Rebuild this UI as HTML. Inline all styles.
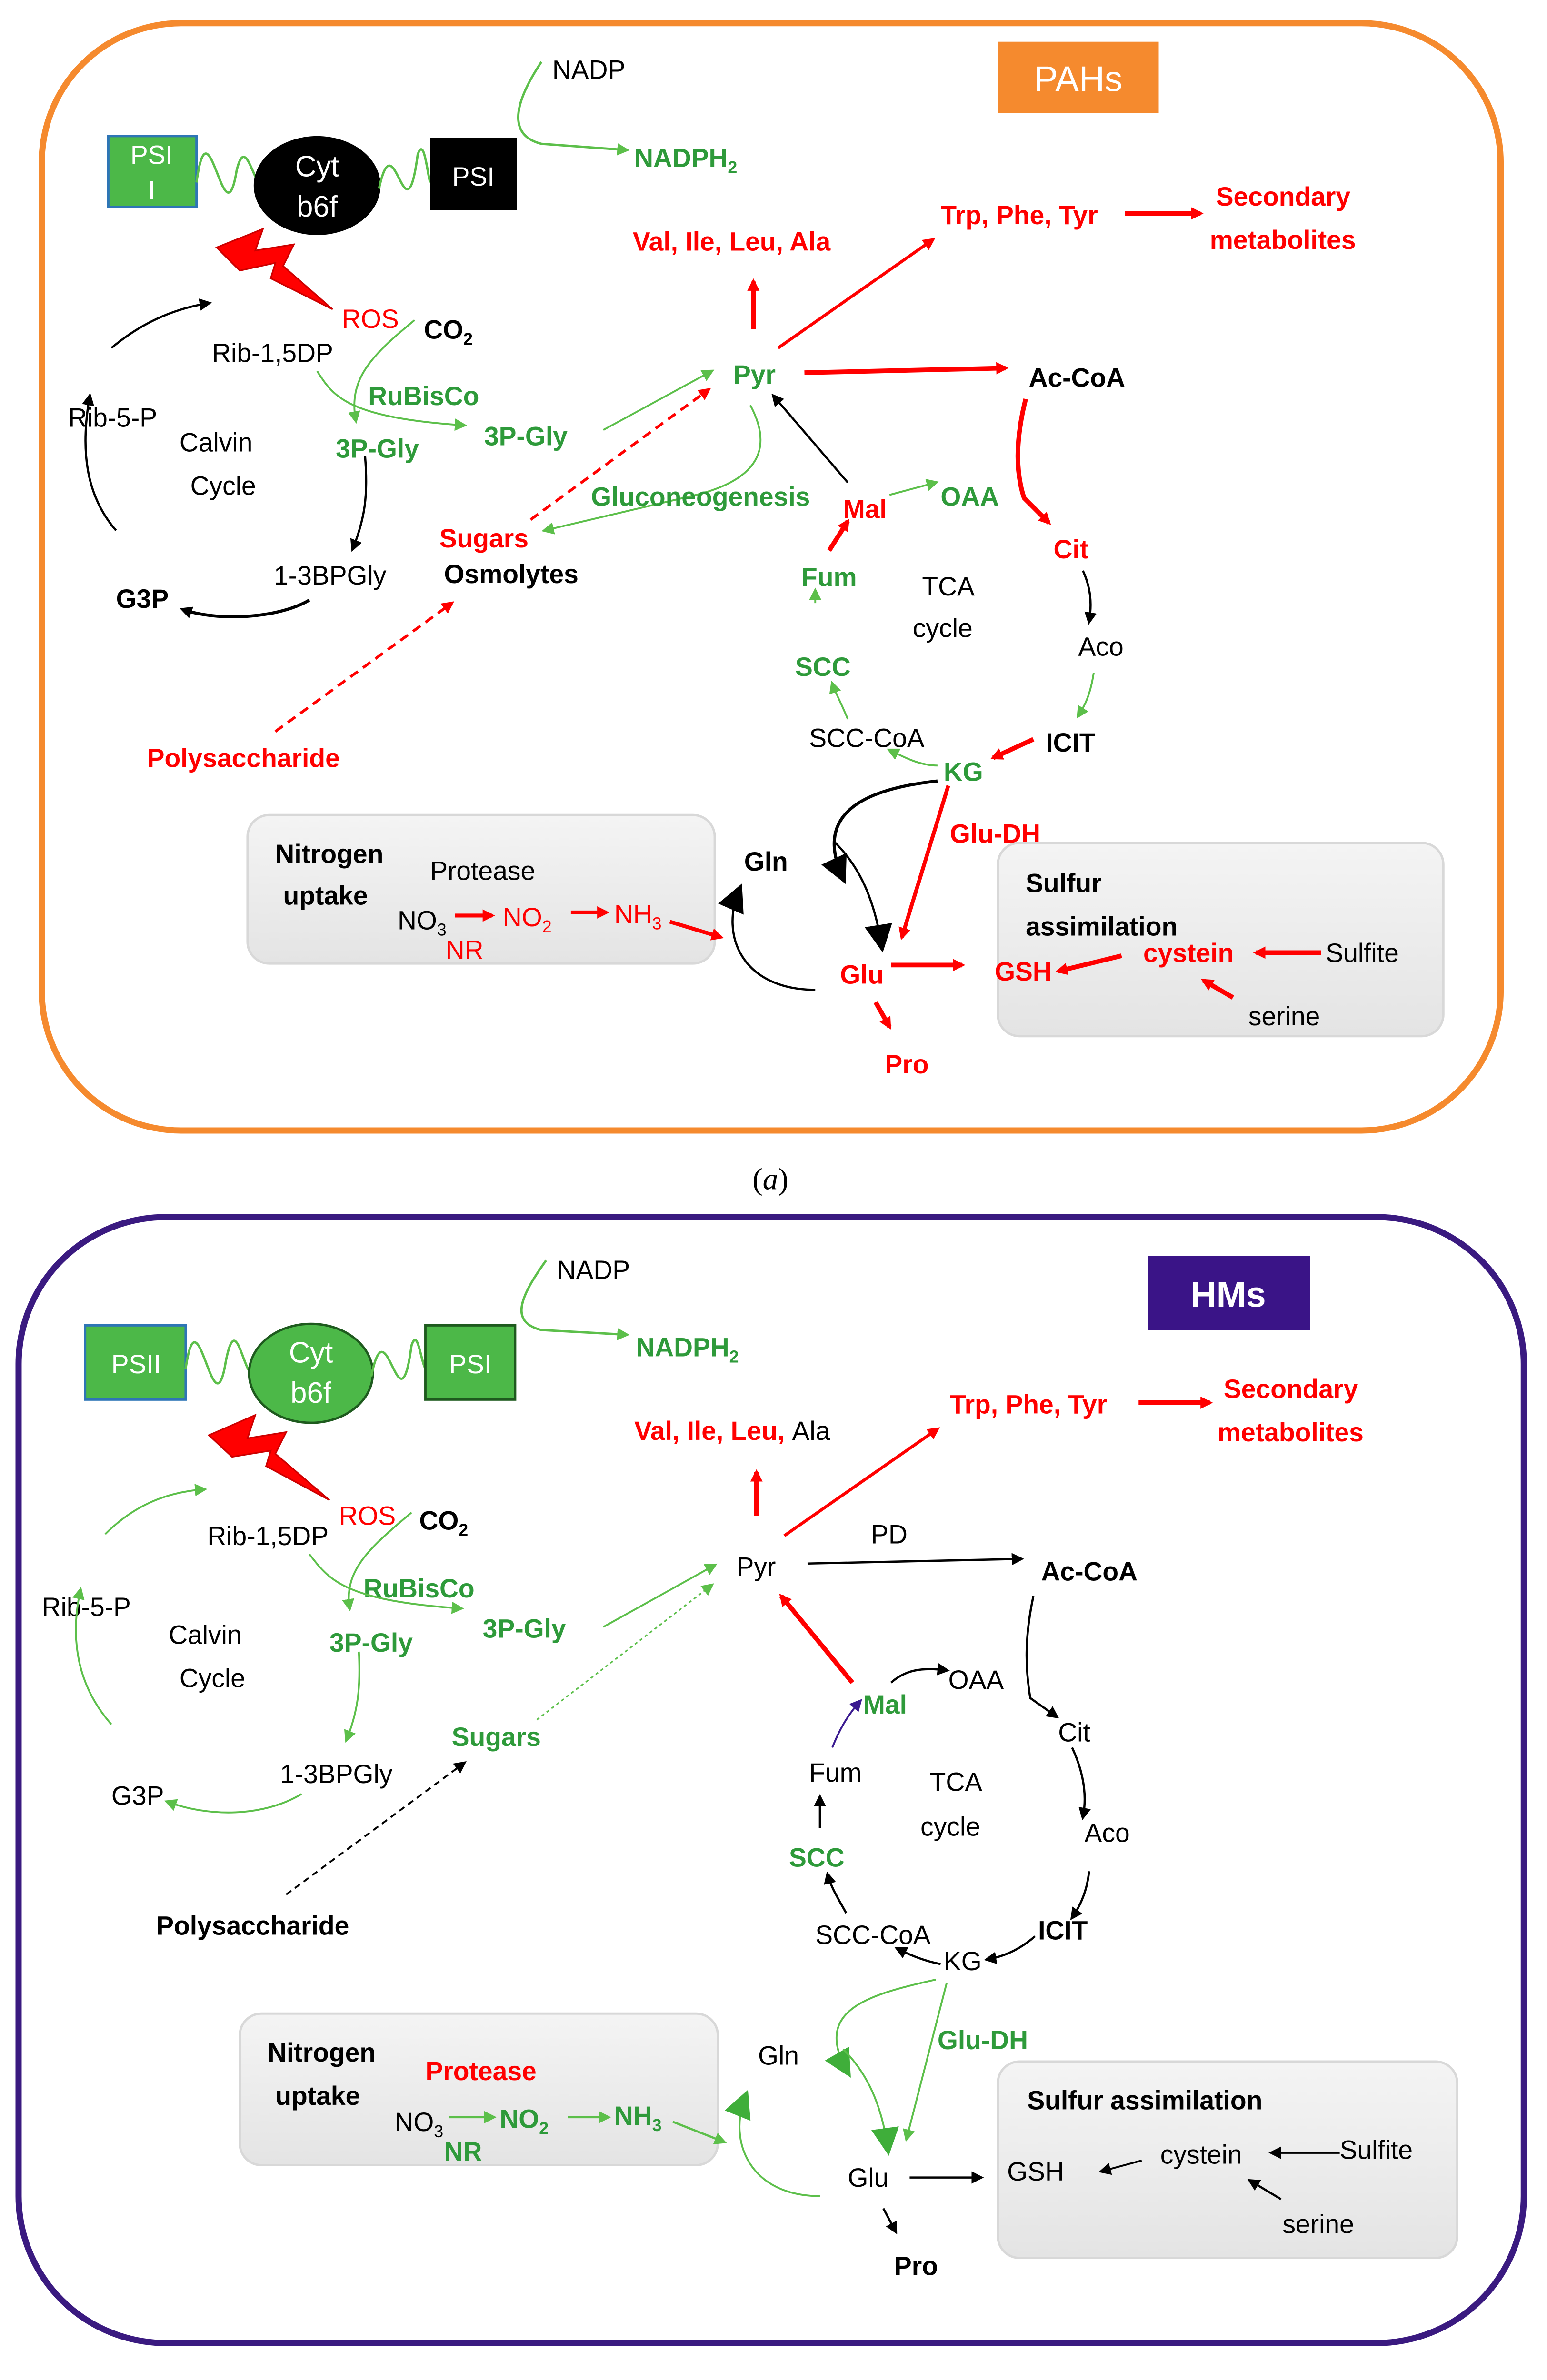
<!DOCTYPE html>
<html><head><meta charset="utf-8"><style>
html,body{margin:0;padding:0;background:#fff;width:3249px;height:5112px;overflow:hidden;}
svg{display:block;}
text{font-family:"Liberation Sans",sans-serif;font-size:17px;}
.b{font-weight:bold;}
.r{fill:#f00;} .g{fill:#2e9a3a;} .k{fill:#000;}
</style></head><body>
<svg width="3249" height="5112" viewBox="0 0 1000 1573.4" preserveAspectRatio="none" xmlns="http://www.w3.org/2000/svg">
<defs>
<marker id="mr" markerWidth="8" markerHeight="8" refX="6" refY="4" orient="auto" markerUnits="userSpaceOnUse"><path d="M0,0L8,4L0,8z" fill="#f00"/></marker>
<marker id="mg" markerWidth="8" markerHeight="8" refX="6" refY="4" orient="auto" markerUnits="userSpaceOnUse"><path d="M0,0L8,4L0,8z" fill="#5cbf4a"/></marker>
<marker id="mk" markerWidth="8" markerHeight="8" refX="6" refY="4" orient="auto" markerUnits="userSpaceOnUse"><path d="M0,0L8,4L0,8z" fill="#000"/></marker>
<marker id="mp" markerWidth="8" markerHeight="8" refX="6" refY="4" orient="auto" markerUnits="userSpaceOnUse"><path d="M0,0L8,4L0,8z" fill="#3a1a90"/></marker>
<marker id="mkb" markerWidth="18" markerHeight="18" refX="14" refY="9" orient="auto" markerUnits="userSpaceOnUse"><path d="M0,0L18,9L0,18z" fill="#000"/></marker>
<marker id="mgb" markerWidth="18" markerHeight="18" refX="14" refY="9" orient="auto" markerUnits="userSpaceOnUse"><path d="M0,0L18,9L0,18z" fill="#3fae3a"/></marker>
<linearGradient id="bx" x1="0" y1="0" x2="0" y2="1"><stop offset="0" stop-color="#f4f4f4"/><stop offset="1" stop-color="#e4e4e4"/></linearGradient>
</defs>

<!-- ============ PANEL A ============ -->
<rect x="27" y="15" width="943" height="716" rx="90" fill="#fff" stroke="#f58a2e" stroke-width="4"/>
<rect x="645" y="27" width="104" height="46" fill="#f58a2e"/>
<text x="697" y="59" text-anchor="middle" fill="#fff" style="font-size:23px">PAHs</text>

<rect x="70" y="88" width="57" height="46" fill="#4cb848" stroke="#2e75b6" stroke-width="1.5"/>
<text x="98" y="106" text-anchor="middle" fill="#fff">PSI</text><text x="98" y="129" text-anchor="middle" fill="#fff">I</text>
<path d="M127,118 C135,60 145,160 153,110 C158,90 162,110 168,120" fill="none" stroke="#5cbf4a" stroke-width="1.5"/>
<ellipse cx="205" cy="120" rx="41" ry="32" fill="#000"/>
<text x="205" y="114" text-anchor="middle" fill="#fff" style="font-size:19px">Cyt</text>
<text x="205" y="140" text-anchor="middle" fill="#fff" style="font-size:19px">b6f</text>
<path d="M245,122 C255,75 262,160 270,100 C274,88 276,110 278,118" fill="none" stroke="#5cbf4a" stroke-width="1.5"/>
<rect x="278" y="89" width="56" height="47" fill="#000"/>
<text x="306" y="120" text-anchor="middle" fill="#fff">PSI</text>
<text x="357" y="51" class="k">NADP</text>
<path d="M350,40 C330,70 330,88 350,93 L405,97" fill="none" stroke="#5cbf4a" stroke-width="1.5" marker-end="url(#mg)"/>
<text x="410" y="108" class="g b">NADPH<tspan style="font-size:11px" dy="4">2</tspan></text>
<path d="M140,160 L170,148 L165,162 L190,158 L183,172 L215,200 L175,180 L178,170 L155,175 Z" fill="#f00" stroke="#c00" stroke-width="1"/>
<text x="221" y="212" class="r">ROS</text>
<text x="274" y="219" class="b">CO<tspan style="font-size:11px" dy="4">2</tspan></text>
<text x="137" y="234">Rib-1,5DP</text>
<text x="44" y="276">Rib-5-P</text>
<text x="116" y="292">Calvin</text><text x="123" y="320">Cycle</text>
<text x="238" y="262" class="g b">RuBisCo</text>
<text x="217" y="296" class="g b">3P-Gly</text>
<text x="313" y="288" class="g b">3P-Gly</text>
<text x="177" y="378">1-3BPGly</text>
<text x="75" y="393" class="b">G3P</text>
<path d="M268,207 C240,230 225,245 230,272" fill="none" stroke="#5cbf4a" stroke-width="1.2" marker-end="url(#mg)"/>
<path d="M205,240 C215,255 222,270 300,275" fill="none" stroke="#5cbf4a" stroke-width="1.2" marker-end="url(#mg)"/>
<path d="M72,225 C90,210 110,200 135,196" fill="none" stroke="#000" stroke-width="1.4" marker-end="url(#mk)"/>
<path d="M75,343 C55,320 52,290 58,256" fill="none" stroke="#000" stroke-width="1.4" marker-end="url(#mk)"/>
<path d="M236,295 C238,320 236,335 228,355" fill="none" stroke="#000" stroke-width="1.4" marker-end="url(#mk)"/>
<path d="M200,388 C180,400 140,402 118,394" fill="none" stroke="#000" stroke-width="2" marker-end="url(#mk)"/>
<path d="M390,278 L460,240" fill="none" stroke="#5cbf4a" stroke-width="1.2" marker-end="url(#mg)"/>
<path d="M343,336 L458,252" fill="none" stroke="#f00" stroke-width="1.8" stroke-dasharray="6,4" marker-end="url(#mr)"/>
<path d="M178,473 L292,390" fill="none" stroke="#f00" stroke-width="1.8" stroke-dasharray="6,4" marker-end="url(#mr)"/>
<text x="284" y="354" class="r b">Sugars</text>
<text x="287" y="377" class="b">Osmolytes</text>
<text x="95" y="496" class="r b">Polysaccharide</text>
<text x="474" y="248" class="g b">Pyr</text>
<text x="409" y="162" class="r b">Val, Ile, Leu, Ala</text>
<text x="608" y="145" class="r b">Trp, Phe, Tyr</text>
<text x="786" y="133" class="r b">Secondary</text><text x="782" y="161" class="r b">metabolites</text>
<text x="665" y="250" class="b">Ac-CoA</text>
<path d="M487,213 L487,182" stroke="#f00" stroke-width="3" marker-end="url(#mr)"/>
<path d="M503,225 L603,155" stroke="#f00" stroke-width="2" marker-end="url(#mr)"/>
<path d="M727,138 L776,138" stroke="#f00" stroke-width="3" marker-end="url(#mr)"/>
<path d="M520,241 L650,238" stroke="#f00" stroke-width="3" marker-end="url(#mr)"/>
<path d="M663,258 C655,290 658,310 662,322 L678,338" fill="none" stroke="#f00" stroke-width="3" marker-end="url(#mr)"/>
<path d="M485,262 C500,290 490,310 450,320 L352,343" fill="none" stroke="#5cbf4a" stroke-width="1.2" marker-end="url(#mg)"/>
<path d="M548,312 L500,256" stroke="#000" stroke-width="1.4" marker-end="url(#mk)"/>
<text x="382" y="327" class="g b">Gluconeogenesis</text>
<text x="545" y="335" class="r b">Mal</text>
<text x="608" y="327" class="g b">OAA</text>
<text x="681" y="361" class="r b">Cit</text>
<text x="697" y="424">Aco</text>
<text x="676" y="486" class="b">ICIT</text>
<text x="610" y="505" class="g b">KG</text>
<text x="523" y="483">SCC-CoA</text>
<text x="514" y="437" class="g b">SCC</text>
<text x="518" y="379" class="g b">Fum</text>
<text x="596" y="385">TCA</text><text x="590" y="412">cycle</text>
<path d="M575,320 L605,312" stroke="#5cbf4a" stroke-width="1.2" marker-end="url(#mg)"/>
<path d="M536,356 L548,337" stroke="#f00" stroke-width="3" marker-end="url(#mr)"/>
<path d="M527,390 L527,382" stroke="#5cbf4a" stroke-width="1.2" marker-end="url(#mg)"/>
<path d="M700,369 C705,380 706,390 704,402" fill="none" stroke="#000" stroke-width="1.4" marker-end="url(#mk)"/>
<path d="M707,435 C705,448 702,455 697,463" fill="none" stroke="#5cbf4a" stroke-width="1.2" marker-end="url(#mg)"/>
<path d="M668,478 L642,490" stroke="#f00" stroke-width="3" marker-end="url(#mr)"/>
<path d="M606,495 C595,495 585,490 575,485" fill="none" stroke="#5cbf4a" stroke-width="1.2" marker-end="url(#mg)"/>
<path d="M548,465 C544,455 540,448 538,442" fill="none" stroke="#5cbf4a" stroke-width="1.2" marker-end="url(#mg)"/>
<rect x="160" y="527" width="302" height="96" rx="14" fill="url(#bx)" stroke="#d8d8d8" stroke-width="1.5"/>
<text x="178" y="558" class="b">Nitrogen</text><text x="183" y="585" class="b">uptake</text>
<text x="278" y="569">Protease</text>
<text x="257" y="601">NO<tspan style="font-size:11px" dy="4">3</tspan></text>
<text x="288" y="620" class="r">NR</text>
<text x="325" y="599" class="r">NO<tspan style="font-size:11px" dy="4">2</tspan></text>
<text x="397" y="597" class="r">NH<tspan style="font-size:11px" dy="4">3</tspan></text>
<path d="M294,592 L318,592" stroke="#f00" stroke-width="2.5" marker-end="url(#mr)"/>
<path d="M369,590 L392,590" stroke="#f00" stroke-width="2.5" marker-end="url(#mr)"/>
<path d="M433,596 L466,606" stroke="#f00" stroke-width="2.5" marker-end="url(#mr)"/>
<text x="481" y="563" class="b">Gln</text>
<text x="614" y="545" class="r b">Glu-DH</text>
<text x="543" y="636" class="r b">Glu</text>
<text x="572" y="694" class="r b">Pro</text>
<path d="M527,640 C480,640 465,605 478,575" fill="none" stroke="#000" stroke-width="1.4" marker-end="url(#mkb)"/>
<path d="M606,505 C560,510 525,525 545,568" fill="none" stroke="#000" stroke-width="2" marker-end="url(#mkb)"/>
<path d="M540,545 C555,560 565,580 570,612" fill="none" stroke="#000" stroke-width="1.4" marker-end="url(#mkb)"/>
<path d="M613,508 L583,606" stroke="#f00" stroke-width="2.5" marker-end="url(#mr)"/>
<path d="M576,624 L622,624" stroke="#f00" stroke-width="3" marker-end="url(#mr)"/>
<path d="M566,648 L575,664" stroke="#f00" stroke-width="3" marker-end="url(#mr)"/>
<rect x="645" y="545" width="288" height="125" rx="14" fill="url(#bx)" stroke="#d8d8d8" stroke-width="1.5"/>
<text x="663" y="577" class="b">Sulfur</text><text x="663" y="605" class="b">assimilation</text>
<text x="739" y="622" class="r b">cystein</text>
<text x="857" y="622">Sulfite</text>
<text x="643" y="634" class="r b">GSH</text>
<text x="807" y="663">serine</text>
<path d="M854,616 L812,616" stroke="#f00" stroke-width="3" marker-end="url(#mr)"/>
<path d="M725,618 L684,628" stroke="#f00" stroke-width="3" marker-end="url(#mr)"/>
<path d="M797,645 L778,634" stroke="#f00" stroke-width="3" marker-end="url(#mr)"/>
<text x="498" y="769" text-anchor="middle" style="font-family:'Liberation Serif',serif;font-size:20px">(<tspan font-style="italic">a</tspan>)</text>

<!-- ============ PANEL B ============ -->
<rect x="12" y="787" width="973" height="728" rx="95" fill="#fff" stroke="#3a1a80" stroke-width="4"/>
<rect x="742" y="812" width="105" height="48" fill="#3a1487"/>
<text x="794" y="845" text-anchor="middle" fill="#fff" class="b" style="font-size:23px">HMs</text>
<rect x="55" y="857" width="65" height="48" fill="#4cb848" stroke="#2e75b6" stroke-width="1.5"/>
<text x="88" y="888" text-anchor="middle" fill="#fff">PSII</text>
<path d="M120,885 C128,830 138,930 146,880 C152,850 156,880 162,888" fill="none" stroke="#5cbf4a" stroke-width="1.5"/>
<ellipse cx="201" cy="888" rx="40" ry="32" fill="#4cb848" stroke="#1e5a1e" stroke-width="1.5"/>
<text x="201" y="881" text-anchor="middle" fill="#fff" style="font-size:19px">Cyt</text>
<text x="201" y="907" text-anchor="middle" fill="#fff" style="font-size:19px">b6f</text>
<path d="M240,890 C250,840 258,930 266,870 C270,858 272,880 275,885" fill="none" stroke="#5cbf4a" stroke-width="1.5"/>
<rect x="275" y="857" width="58" height="48" fill="#4cb848" stroke="#1e5a1e" stroke-width="1.5"/>
<text x="304" y="888" text-anchor="middle" fill="#fff">PSI</text>
<text x="360" y="827">NADP</text>
<path d="M353,815 C335,840 330,855 350,860 L405,863" fill="none" stroke="#5cbf4a" stroke-width="1.5" marker-end="url(#mg)"/>
<text x="411" y="877" class="g b">NADPH<tspan style="font-size:11px" dy="4">2</tspan></text>
<path d="M135,928 L165,915 L160,930 L185,926 L178,940 L213,970 L172,948 L175,938 L150,942 Z" fill="#f00" stroke="#c00" stroke-width="1"/>
<text x="219" y="986" class="r">ROS</text>
<text x="271" y="989" class="b">CO<tspan style="font-size:11px" dy="4">2</tspan></text>
<text x="134" y="999">Rib-1,5DP</text>
<text x="27" y="1045">Rib-5-P</text>
<text x="109" y="1063">Calvin</text><text x="116" y="1091">Cycle</text>
<text x="235" y="1033" class="g b">RuBisCo</text>
<text x="213" y="1068" class="g b">3P-Gly</text>
<text x="312" y="1059" class="g b">3P-Gly</text>
<text x="181" y="1153">1-3BPGly</text>
<text x="72" y="1167">G3P</text>
<path d="M266,978 C240,1000 222,1015 226,1040" fill="none" stroke="#5cbf4a" stroke-width="1.2" marker-end="url(#mg)"/>
<path d="M200,1005 C212,1020 220,1035 298,1040" fill="none" stroke="#5cbf4a" stroke-width="1.2" marker-end="url(#mg)"/>
<path d="M68,992 C85,975 105,965 132,963" fill="none" stroke="#5cbf4a" stroke-width="1.2" marker-end="url(#mg)"/>
<path d="M72,1115 C50,1090 45,1060 52,1028" fill="none" stroke="#5cbf4a" stroke-width="1.2" marker-end="url(#mg)"/>
<path d="M232,1068 C233,1090 232,1105 224,1125" fill="none" stroke="#5cbf4a" stroke-width="1.2" marker-end="url(#mg)"/>
<path d="M195,1160 C170,1175 135,1175 108,1165" fill="none" stroke="#5cbf4a" stroke-width="1.2" marker-end="url(#mg)"/>
<path d="M390,1052 L462,1012" fill="none" stroke="#5cbf4a" stroke-width="1.2" marker-end="url(#mg)"/>
<path d="M347,1112 L460,1025" fill="none" stroke="#5cbf4a" stroke-width="1" stroke-dasharray="2,2" marker-end="url(#mg)"/>
<path d="M185,1225 L300,1140" fill="none" stroke="#000" stroke-width="1.2" stroke-dasharray="4,3" marker-end="url(#mk)"/>
<text x="292" y="1129" class="g b">Sugars</text>
<text x="101" y="1251" class="b">Polysaccharide</text>
<text x="476" y="1019">Pyr</text>
<text x="563" y="998">PD</text>
<text x="673" y="1022" class="b">Ac-CoA</text>
<text x="410" y="931" class="r b">Val, Ile, Leu, <tspan style="fill:#000;font-weight:normal">Ala</tspan></text>
<text x="614" y="914" class="r b">Trp, Phe, Tyr</text>
<text x="791" y="904" class="r b">Secondary</text><text x="787" y="932" class="r b">metabolites</text>
<path d="M489,980 L489,952" stroke="#f00" stroke-width="3" marker-end="url(#mr)"/>
<path d="M507,993 L606,924" stroke="#f00" stroke-width="2" marker-end="url(#mr)"/>
<path d="M736,907 L782,907" stroke="#f00" stroke-width="3" marker-end="url(#mr)"/>
<path d="M522,1011 L660,1008" stroke="#000" stroke-width="1.4" marker-end="url(#mk)"/>
<path d="M551,1088 L505,1032" stroke="#f00" stroke-width="3" marker-end="url(#mr)"/>
<text x="558" y="1108" class="g b">Mal</text>
<text x="613" y="1092">OAA</text>
<text x="684" y="1126">Cit</text>
<text x="701" y="1191">Aco</text>
<text x="671" y="1254" class="b">ICIT</text>
<text x="610" y="1274">KG</text>
<text x="527" y="1257">SCC-CoA</text>
<text x="510" y="1207" class="g b">SCC</text>
<text x="523" y="1152">Fum</text>
<text x="601" y="1158">TCA</text><text x="595" y="1187">cycle</text>
<path d="M668,1032 C662,1060 663,1080 666,1098 L683,1110" fill="none" stroke="#000" stroke-width="1.4" marker-end="url(#mk)"/>
<path d="M576,1088 C585,1080 595,1078 612,1080" fill="none" stroke="#000" stroke-width="1.4" marker-end="url(#mk)"/>
<path d="M538,1130 C542,1120 547,1110 556,1100" fill="none" stroke="#3a1a90" stroke-width="1.2" marker-end="url(#mp)"/>
<path d="M530,1182 L530,1162" stroke="#000" stroke-width="1.4" marker-end="url(#mk)"/>
<path d="M547,1237 C542,1228 537,1220 535,1212" fill="none" stroke="#000" stroke-width="1.4" marker-end="url(#mk)"/>
<path d="M693,1130 C700,1145 703,1160 700,1175" fill="none" stroke="#000" stroke-width="1.4" marker-end="url(#mk)"/>
<path d="M704,1210 C703,1220 700,1230 693,1240" fill="none" stroke="#000" stroke-width="1.4" marker-end="url(#mk)"/>
<path d="M669,1252 C660,1260 650,1265 638,1267" fill="none" stroke="#000" stroke-width="1.4" marker-end="url(#mk)"/>
<path d="M608,1270 C598,1268 590,1265 580,1260" fill="none" stroke="#000" stroke-width="1.4" marker-end="url(#mk)"/>
<rect x="155" y="1302" width="309" height="98" rx="14" fill="url(#bx)" stroke="#d8d8d8" stroke-width="1.5"/>
<text x="173" y="1333" class="b">Nitrogen</text><text x="178" y="1361" class="b">uptake</text>
<text x="275" y="1345" class="r b">Protease</text>
<text x="255" y="1378">NO<tspan style="font-size:11px" dy="4">3</tspan></text>
<text x="287" y="1397" class="g b">NR</text>
<text x="323" y="1376" class="g b">NO<tspan style="font-size:11px" dy="4">2</tspan></text>
<text x="397" y="1374" class="g b">NH<tspan style="font-size:11px" dy="4">3</tspan></text>
<path d="M290,1369 L319,1369" stroke="#5cbf4a" stroke-width="1.4" marker-end="url(#mg)"/>
<path d="M367,1369 L393,1369" stroke="#5cbf4a" stroke-width="1.4" marker-end="url(#mg)"/>
<path d="M435,1372 L468,1385" stroke="#5cbf4a" stroke-width="1.4" marker-end="url(#mg)"/>
<text x="490" y="1335">Gln</text>
<text x="606" y="1325" class="g b">Glu-DH</text>
<text x="548" y="1414">Glu</text>
<text x="578" y="1471" class="b">Pro</text>
<path d="M530,1420 C485,1420 470,1385 482,1355" fill="none" stroke="#5cbf4a" stroke-width="1.2" marker-end="url(#mgb)"/>
<path d="M605,1280 C560,1290 525,1300 548,1340" fill="none" stroke="#5cbf4a" stroke-width="1.2" marker-end="url(#mgb)"/>
<path d="M545,1325 C560,1340 570,1360 574,1390" fill="none" stroke="#5cbf4a" stroke-width="1.2" marker-end="url(#mgb)"/>
<path d="M612,1282 L586,1383" stroke="#5cbf4a" stroke-width="1.2" marker-end="url(#mg)"/>
<path d="M588,1408 L634,1408" stroke="#000" stroke-width="1.4" marker-end="url(#mk)"/>
<path d="M571,1428 L579,1443" stroke="#000" stroke-width="1.4" marker-end="url(#mk)"/>
<rect x="645" y="1333" width="297" height="127" rx="14" fill="url(#bx)" stroke="#d8d8d8" stroke-width="1.5"/>
<text x="664" y="1364" class="b">Sulfur assimilation</text>
<text x="750" y="1399">cystein</text>
<text x="866" y="1396">Sulfite</text>
<text x="651" y="1410">GSH</text>
<text x="829" y="1444">serine</text>
<path d="M866,1392 L822,1392" stroke="#000" stroke-width="1.4" marker-end="url(#mk)"/>
<path d="M738,1397 L712,1404" stroke="#000" stroke-width="1.2" marker-end="url(#mk)"/>
<path d="M828,1422 L808,1410" stroke="#000" stroke-width="1.4" marker-end="url(#mk)"/>
<text x="498" y="1553" text-anchor="middle" style="font-family:'Liberation Serif',serif;font-size:20px">(<tspan font-weight="bold">b</tspan>)</text>
</svg>
</body></html>
